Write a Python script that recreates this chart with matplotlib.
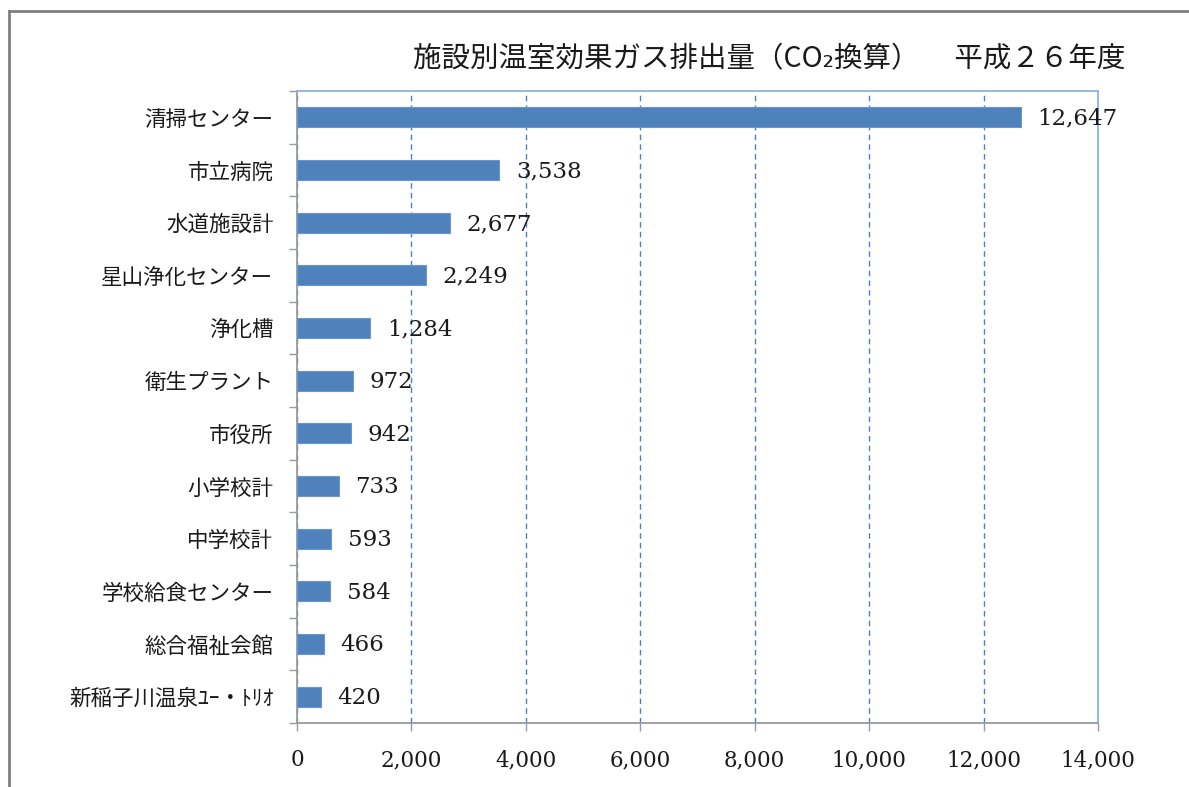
import matplotlib.pyplot as plt
from matplotlib.lines import Line2D
from matplotlib.ticker import FixedLocator, FuncFormatter

plt.rcParams['font.family'] = ['Noto Sans CJK JP', 'DejaVu Sans']

facilities = ['清掃センター', '市立病院', '水道施設計', '星山浄化センター', '浄化槽',
              '衛生プラント', '市役所', '小学校計', '中学校計', '学校給食センター',
              '総合福祉会館', '新稲子川温泉ﾕｰ・ﾄﾘｵ']
emissions = [12647, 3538, 2677, 2249, 1284, 972, 942, 733, 593, 584, 466, 420]
x_ticks = [0, 2000, 4000, 6000, 8000, 10000, 12000, 14000]
title = '施設別温室効果ガス排出量（CO₂換算）　 平成２６年度'

fig = plt.figure(figsize=(11.89, 7.87), dpi=100)
ax = fig.add_axes([0.2498, 0.0813, 0.6737, 0.8031])

ypos = range(len(facilities))
ax.barh(ypos, emissions, height=0.38, color='#4f81bd', edgecolor='#6a96cc',
        linewidth=0.8, zorder=3)

for y, v in zip(ypos, emissions):
    ax.annotate(f'{v:,}', (v, y), xytext=(12, -1), textcoords='offset points',
                va='center', ha='left', fontsize=16.5, family='DejaVu Serif',
                color='#1a1a1a', zorder=4)

ax.set_xlim(0, 14000)
ax.set_ylim(len(facilities) - 0.5, -0.5)
ax.set_xticks(x_ticks)
ax.xaxis.set_major_formatter(FuncFormatter(lambda v, p: f'{int(v):,}'))
for lbl in ax.get_xticklabels():
    lbl.set_family('DejaVu Serif')
ax.tick_params(axis='x', labelsize=15.5, length=6, width=1, color='#9a9a9a',
               pad=13, labelcolor='#1a1a1a')

ax.set_yticks(list(ypos))
ax.set_yticklabels(facilities, fontsize=15.5, color='#1a1a1a')
ax.yaxis.set_minor_locator(FixedLocator([i - 0.5 for i in range(len(facilities) + 1)]))
ax.tick_params(axis='y', which='major', length=0, pad=17)
ax.tick_params(axis='y', which='minor', length=6, width=1, color='#9a9a9a')

ax.xaxis.grid(True, linestyle=(0, (4, 3)), color='#4f81bd', linewidth=1, zorder=0)
ax.set_axisbelow(True)

for side in ['left', 'bottom']:
    ax.spines[side].set_color('#9a9a9a')
    ax.spines[side].set_linewidth(1.3)
for side in ['top', 'right']:
    ax.spines[side].set_color('#8db3e2')
    ax.spines[side].set_linewidth(1.3)

fig.text(0.647, 0.925, title, ha='center', va='center', fontsize=20.5,
         color='#1a1a1a')

# outer chart frame
fig.add_artist(Line2D([0.0075, 0.0075], [0.0, 0.986], transform=fig.transFigure,
                      color='#808080', linewidth=2))
fig.add_artist(Line2D([0.0075, 1.0], [0.986, 0.986], transform=fig.transFigure,
                      color='#808080', linewidth=2))

fig.savefig('out.png', dpi=100)
